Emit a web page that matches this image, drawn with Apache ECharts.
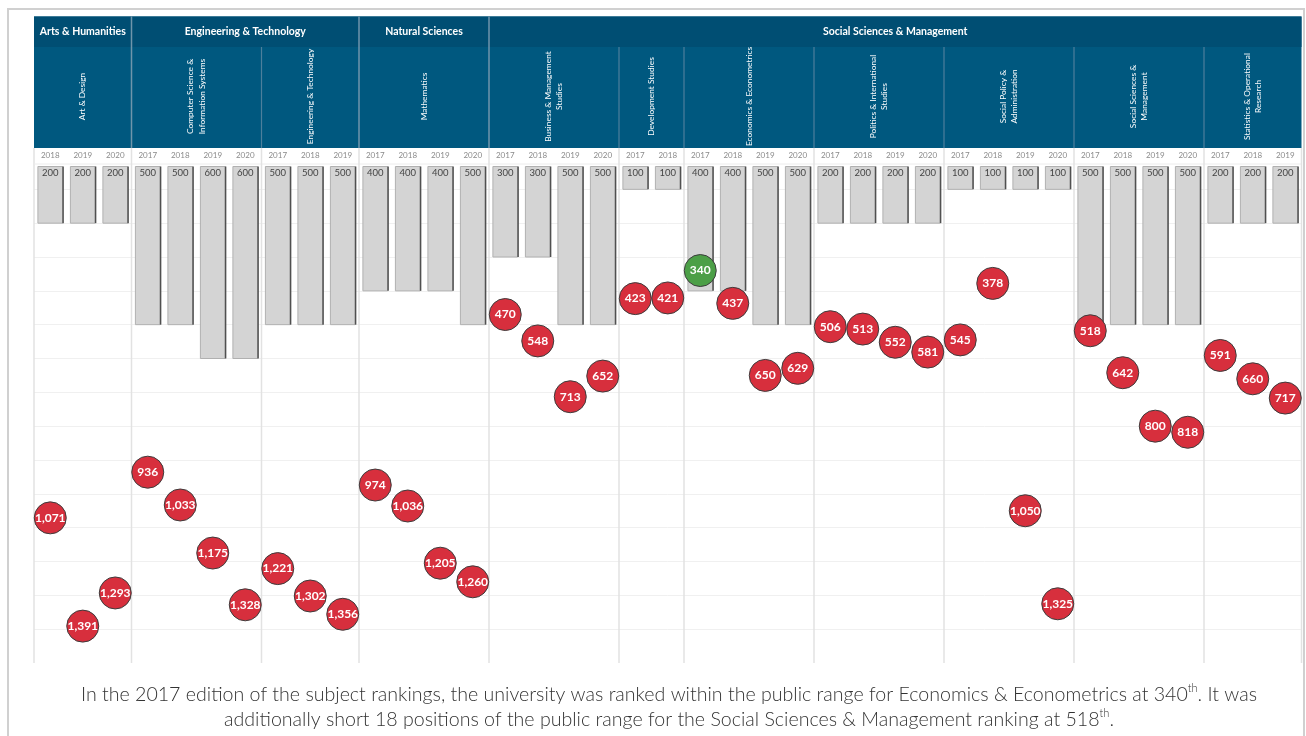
<!DOCTYPE html>
<html>
<head>
<meta charset="utf-8">
<script src="https://cdn.jsdelivr.net/npm/echarts@6/dist/echarts.min.js"></script>
<style>
  html, body { margin: 0; padding: 0; background: #fff; }
  #chart { width: 1306px; height: 736px; }
</style>
</head>
<body>
<div id="chart"></div>
<script>
const groups = ["Arts & Humanities", "Engineering & Technology", "Natural Sciences", "Social Sciences & Management"];

const subjects = [
  "Art & Design",
  "Computer Science &\nInformation Systems",
  "Engineering & Technology",
  "Mathematics",
  "Business & Management\nStudies",
  "Development Studies",
  "Economics & Econometrics",
  "Politics & International\nStudies",
  "Social Policy &\nAdministration",
  "Social Sciences &\nManagement",
  "Statistics & Operational\nResearch",
];
const subjectGroup = [0, 1, 1, 2, 3, 3, 3, 3, 3, 3, 3];

const subjectYears = [
  [2018, 2019, 2020],
  [2017, 2018, 2019, 2020],
  [2017, 2018, 2019],
  [2017, 2018, 2019, 2020],
  [2017, 2018, 2019, 2020],
  [2017, 2018],
  [2017, 2018, 2019, 2020],
  [2017, 2018, 2019, 2020],
  [2017, 2018, 2019, 2020],
  [2017, 2018, 2019, 2020],
  [2017, 2018, 2019],
];

// published range per column (grey bars)
const publicRange = [
  200, 200, 200,
  500, 500, 600, 600,
  500, 500, 500,
  400, 400, 400, 500,
  300, 300, 500, 500,
  100, 100,
  400, 400, 500, 500,
  200, 200, 200, 200,
  100, 100, 100, 100,
  500, 500, 500, 500,
  200, 200, 200,
];

// actual rank per column (circles)
const rank = [
  1071, 1391, 1293,
  936, 1033, 1175, 1328,
  1221, 1302, 1356,
  974, 1036, 1205, 1260,
  470, 548, 713, 652,
  423, 421,
  340, 437, 650, 629,
  506, 513, 552, 581,
  545, 378, 1050, 1325,
  518, 642, 800, 818,
  591, 660, 717,
];

// build columns + spans
const years = subjectYears.flat().map(String);
let col = 0;
const subjectSpans = subjectYears.map((ys) => {
  const s = col;
  col += ys.length;
  return [s, col - 1];
});
const groupSpans = groups.map((g, gi) => {
  const idx = subjectGroup.map((v, i) => (v === gi ? i : -1)).filter((i) => i >= 0);
  return [subjectSpans[idx[0]][0], subjectSpans[idx[idx.length - 1]][1]];
});

const HEAD_TOP = 16.5;
const GROUP_BOTTOM = 47;
const HEAD_BOTTOM = 148;
const YEAR_BOTTOM = 164;
const PLOT_BOTTOM = 663;
const FONT = "Lato, 'Open Sans', sans-serif";

const chart = echarts.init(document.getElementById("chart"));

function bandEdges(api, s, e) {
  const bw = api.size([1, 0])[0];
  return [api.coord([s, 0])[0] - bw / 2, api.coord([e, 0])[0] + bw / 2];
}

const option = {
  animation: false,
  backgroundColor: "#fff",
  textStyle: { fontFamily: FONT },
  grid: { left: 34, right: 4.5, top: 155.5, bottom: 73 },
  xAxis: {
    type: "category",
    position: "top",
    data: years,
    axisLine: { show: false },
    axisTick: { show: false },
    splitLine: { show: false },
    axisLabel: {
      interval: 0,
      margin: 0,
      verticalAlign: "middle",
      fontSize: 8,
      color: "#8a8a8a",
      fontFamily: FONT,
    },
  },
  yAxis: {
    type: "value",
    inverse: true,
    min: 0,
    max: 1500,
    interval: 100,
    axisLine: { show: false },
    axisTick: { show: false },
    axisLabel: { show: false },
    splitLine: {
      show: true,
      showMinLine: false,
      showMaxLine: false,
      lineStyle: { color: "#f0f0f0", width: 1 },
    },
  },
  graphic: [
    {
      type: "rect",
      shape: { x: 8, y: 9, width: 1296, height: 740 },
      style: { fill: "none", stroke: "#d0d0d0", lineWidth: 2 },
      z: -10,
    },
    {
      type: "text",
      x: 669,
      y: 707,
      style: {
        text:
          "In the 2017 edition of the subject rankings, the university was ranked within the public range for Economics & Econometrics at 340{sup|th}. It was\nadditionally short 18 positions of the public range for the Social Sciences & Management ranking at 518{sup|th}.",
        align: "center",
        verticalAlign: "middle",
        fill: "#333",
        font: "300 19.6px " + FONT,
        lineHeight: 25,
        rich: {
          sup: { fontSize: 11, fontFamily: FONT, fontWeight: 300, fill: "#333", padding: [0, 0, 12, 0] },
        },
      },
    },
  ],
  series: [
    // group header blocks
    {
      type: "custom",
      z: 1,
      silent: true,
      data: groupSpans.map((s, i) => [s[0], s[1], i]),
      renderItem(params, api) {
        const [x0, x1] = bandEdges(api, api.value(0), api.value(1));
        const gi = api.value(2);
        const children = [
          {
            type: "rect",
            shape: { x: x0, y: HEAD_TOP, width: x1 - x0, height: HEAD_BOTTOM - HEAD_TOP },
            style: { fill: "#00587f" },
          },
          {
            type: "rect",
            shape: { x: x0, y: HEAD_TOP, width: x1 - x0, height: GROUP_BOTTOM - HEAD_TOP },
            style: { fill: "#004e73" },
          },
          {
            type: "text",
            x: (x0 + x1) / 2,
            y: (HEAD_TOP + GROUP_BOTTOM) / 2,
            style: {
              text: groups[gi],
              fill: "#fff",
              font: "bold 10.5px " + FONT,
              align: "center",
              verticalAlign: "middle",
            },
          },
        ];
        if (gi > 0) {
          children.push({
            type: "line",
            shape: { x1: x0, y1: HEAD_TOP, x2: x0, y2: HEAD_BOTTOM },
            style: { stroke: "#6f95ab", lineWidth: 1.5 },
          });
        }
        return { type: "group", children };
      },
    },
    // subject labels, separators and plot dividers
    {
      type: "custom",
      z: 2,
      silent: true,
      data: subjectSpans.map((s, i) => [s[0], s[1], i]),
      renderItem(params, api) {
        const [x0, x1] = bandEdges(api, api.value(0), api.value(1));
        const si = api.value(2);
        const children = [
          {
            type: "text",
            x: (x0 + x1) / 2,
            y: 96.5,
            rotation: Math.PI / 2,
            style: {
              text: subjects[si],
              fill: "#fff",
              font: "8.4px " + FONT,
              align: "center",
              verticalAlign: "middle",
              lineHeight: 11.5,
            },
          },
          {
            type: "line",
            shape: { x1: x0, y1: HEAD_BOTTOM, x2: x0, y2: PLOT_BOTTOM },
            style: { stroke: "#e2e2e2", lineWidth: 1.5 },
          },
        ];
        const first = si === 0 || subjectGroup[si - 1] !== subjectGroup[si];
        if (!first) {
          children.push({
            type: "line",
            shape: { x1: x0, y1: GROUP_BOTTOM, x2: x0, y2: HEAD_BOTTOM },
            style: { stroke: "#4d7f9c", lineWidth: 1.2 },
          });
        }
        if (si === subjects.length - 1) {
          children.push({
            type: "line",
            shape: { x1: x1, y1: HEAD_BOTTOM, x2: x1, y2: PLOT_BOTTOM },
            style: { stroke: "#e2e2e2", lineWidth: 1.5 },
          });
        }
        if (si === 0) {
          const right = api.coord([years.length - 1, 0])[0] + api.size([1, 0])[0] / 2;
          children.push({
            type: "line",
            shape: { x1: x0, y1: YEAR_BOTTOM, x2: right, y2: YEAR_BOTTOM },
            style: { stroke: "#ececec", lineWidth: 1 },
          });
        }
        return { type: "group", children };
      },
    },
    // public range bars
    {
      type: "custom",
      z: 3,
      data: publicRange.map((v, i) => [i, v]),
      encode: { x: 0, y: 1 },
      renderItem(params, api) {
        const i = api.value(0);
        const v = api.value(1);
        const top = api.coord([i, 0]);
        const bottom = api.coord([i, v]);
        const w = api.size([1, 0])[0] * 0.76;
        const y0 = top[1] + 11;
        const x = top[0] - w / 2;
        return {
          type: "group",
          children: [
            {
              type: "rect",
              shape: { x: x, y: y0, width: w, height: bottom[1] - y0 },
              style: { fill: "#d4d4d4", stroke: "#b0b0b0", lineWidth: 1 },
            },
            {
              type: "line",
              shape: { x1: x + w + 0.5, y1: y0, x2: x + w + 0.5, y2: bottom[1] },
              style: { stroke: "#505050", lineWidth: 1.5 },
            },
            {
              type: "text",
              x: top[0],
              y: y0 + 6,
              style: {
                text: String(v),
                fill: "#444",
                font: "9.5px " + FONT,
                align: "center",
                verticalAlign: "middle",
              },
            },
          ],
        };
      },
    },
    // ranks
    {
      type: "scatter",
      z: 5,
      symbolSize: 32,
      data: rank.map((r, i) => [i, r, publicRange[i]]),
      encode: { x: 0, y: 1 },
      itemStyle: {
        color: (p) => (p.data[1] <= p.data[2] ? "#4c9f47" : "#d72f3d"),
        borderColor: "#3d3d3d",
        borderWidth: 1,
        opacity: 1,
      },
      label: {
        show: true,
        position: "inside",
        color: "#fff",
        fontWeight: "bold",
        fontSize: 12,
        fontFamily: FONT,
        formatter: (p) => echarts.format.addCommas(p.data[1]),
      },
    },
  ],
};

chart.setOption(option);
window.addEventListener("resize", () => {
  chart.resize();
});
</script>
</body>
</html>
